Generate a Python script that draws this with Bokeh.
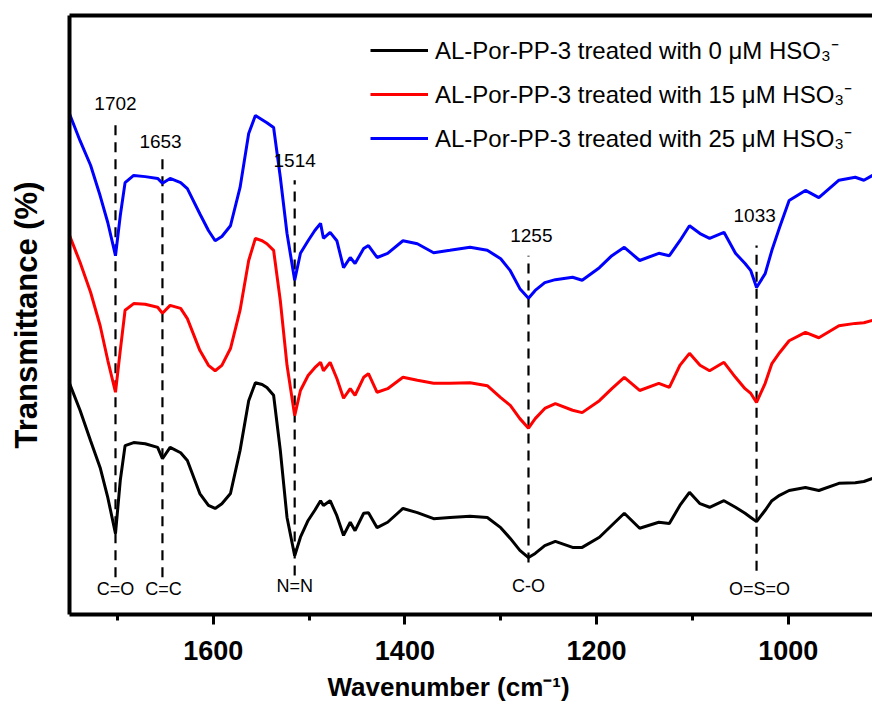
from bokeh.plotting import figure
from bokeh.models import Range1d, FixedTicker, LinearAxis, Legend, LegendItem, Title
from bokeh.core.properties import value
from bokeh.embed import file_html
from bokeh.resources import INLINE

# ---------------- data ----------------
wavenumber = [1750, 1739, 1728, 1718, 1710, 1702, 1697, 1692, 1683, 1671,
              1658, 1653, 1645, 1634, 1627, 1614, 1605, 1598, 1591, 1582,
              1572, 1563, 1556, 1549, 1544, 1537, 1530, 1523, 1515, 1509,
              1501, 1494, 1488, 1485, 1478, 1471, 1464, 1457, 1452, 1443,
              1438, 1429, 1418, 1402, 1387, 1370, 1353, 1332, 1314, 1300,
              1290, 1280, 1271, 1264, 1254, 1243, 1225, 1215, 1197, 1184,
              1171, 1155, 1135, 1124, 1113, 1103, 1092, 1082, 1067, 1055,
              1045, 1039, 1033, 1024, 1017, 1009, 999, 982, 968, 947,
              930, 921, 912]

t_0uM = [38.6, 34.1, 29.0, 24.5, 19.5, 13.5, 22.4, 28.2, 28.7, 28.5,
         27.9, 26.0, 27.9, 27.0, 25.7, 20.2, 18.2, 17.7, 18.5, 20.2,
         27.4, 35.7, 38.7, 38.4, 37.9, 36.6, 27.4, 16.2, 9.8, 12.9,
         15.7, 17.4, 19.0, 18.2, 19.0, 16.5, 13.2, 15.4, 14.0, 16.9,
         17.0, 14.5, 15.4, 17.7, 17.0, 16.0, 16.2, 16.4, 16.2, 14.5,
         12.7, 10.7, 9.5, 10.2, 11.5, 12.2, 11.2, 11.2, 12.9, 14.9,
         16.9, 14.4, 15.4, 15.2, 18.2, 20.4, 18.5, 17.9, 19.0, 17.9,
         16.9, 16.2, 15.5, 17.4, 19.0, 19.9, 20.7, 21.2, 20.7, 21.9,
         22.0, 22.2, 22.7]

t_15uM = [63.3, 58.8, 53.8, 48.2, 42.4, 37.1, 44.1, 50.8, 51.9, 51.8,
          51.3, 50.3, 51.6, 51.1, 49.4, 44.1, 41.6, 40.7, 41.6, 44.4,
          50.8, 59.1, 62.8, 62.4, 61.9, 60.8, 52.4, 41.6, 33.2, 37.4,
          39.9, 41.2, 42.1, 40.7, 42.1, 39.4, 36.1, 37.7, 36.6, 39.6,
          40.2, 37.1, 37.7, 39.6, 39.1, 38.6, 38.6, 38.7, 38.2, 36.2,
          34.9, 32.7, 31.1, 32.7, 34.4, 35.2, 34.1, 33.7, 35.7, 37.7,
          39.6, 37.4, 38.6, 37.9, 41.6, 43.6, 41.6, 40.7, 42.1, 39.6,
          37.7, 36.9, 35.4, 38.6, 41.9, 43.7, 45.7, 47.1, 46.2, 48.2,
          48.6, 48.7, 49.1]

t_25uM = [83.6, 79.1, 75.0, 69.9, 65.4, 59.9, 66.6, 72.1, 73.3, 73.1,
          72.8, 72.0, 72.8, 72.1, 71.1, 66.9, 64.1, 62.4, 63.1, 64.9,
          71.3, 80.3, 83.3, 82.6, 82.1, 81.3, 73.0, 63.6, 55.8, 60.3,
          62.4, 64.1, 65.3, 62.8, 63.8, 62.4, 57.9, 59.6, 58.6, 61.1,
          61.6, 59.6, 60.3, 62.4, 61.9, 60.4, 60.8, 61.3, 60.8, 59.4,
          57.4, 54.4, 52.8, 54.1, 55.4, 55.9, 56.3, 55.8, 57.9, 59.9,
          61.3, 59.1, 60.3, 59.9, 62.4, 64.9, 63.6, 62.8, 63.8, 60.3,
          58.6, 57.4, 54.6, 56.9, 60.8, 64.6, 69.1, 70.8, 69.6, 72.5,
          73.0, 72.5, 73.3]

series_labels = ["AL-Por-PP-3 treated with 0 \u03bcM HSO\u2083\u207b",
                 "AL-Por-PP-3 treated with 15 \u03bcM HSO\u2083\u207b",
                 "AL-Por-PP-3 treated with 25 \u03bcM HSO\u2083\u207b"]
series_colors = ["#000000", "#ff0000", "#0000ff"]

# peak marker lines
peak_pos = [1702, 1653, 1515, 1271, 1033]
peak_line_top = [82.8, 77.0, 72.5, 59.9, 61.6]
peak_line_bottom = [6.2, 6.2, 6.5, 8.7, 7.3]
peak_text = ["1702", "1653", "1514", "1255", "1033"]
peak_text_x = [1702, 1655, 1515, 1268, 1035]
peak_text_y = [85.3, 79.0, 75.8, 63.3, 66.6]
bond_text = ["C=O", "C=C", "N=N", "C-O", "O=S=O"]
bond_text_x = [1702, 1652, 1515, 1271, 1030]
bond_text_y = [4.3, 4.3, 4.8, 4.8, 4.3]

x_major = [1000, 1200, 1400, 1600]
x_minor = [1100, 1300, 1500, 1700]

FONT = "Liberation Sans"

p = figure(width=872, height=721, output_backend="svg", toolbar_location=None,
           x_range=Range1d(1750, 912), y_range=Range1d(0, 100),
           min_border_left=69, min_border_right=0, min_border_top=15,
           min_border_bottom=107)
p.outline_line_color = None
p.xgrid.visible = False
p.ygrid.visible = False
p.background_fill_color = "white"
p.border_fill_color = "white"

# bottom axis
xa = p.xaxis[0]
xa.ticker = FixedTicker(ticks=x_major, minor_ticks=x_minor)
xa.axis_line_width = 4
xa.major_tick_line_width = 3
xa.minor_tick_line_width = 3
xa.major_tick_out = 10
xa.major_tick_in = 0
xa.minor_tick_out = 6
xa.minor_tick_in = 0
xa.major_label_text_font = FONT
xa.major_label_text_font_style = "bold"
xa.major_label_text_font_size = "27px"
xa.major_label_text_color = "black"
xa.major_label_standoff = 16

xtitle = Title(text="Wavenumber (cm\u207b\u00b9)", align="left", offset=258,
               text_font=FONT, text_font_style="bold", text_font_size="26px",
               text_color="black", standoff=14)
p.add_layout(xtitle, "below")

# left axis
ya = p.yaxis[0]
ya.ticker = FixedTicker(ticks=[])
ya.axis_line_width = 4
ya.major_tick_line_color = None
ya.minor_tick_line_color = None
ya.axis_label = "Transmittance (%)"
ya.axis_label_text_font = FONT
ya.axis_label_text_font_style = "bold"
ya.axis_label_text_font_size = "31px"
ya.axis_label_text_color = "black"
ya.axis_label_standoff = 26

# top frame line
top = LinearAxis(ticker=FixedTicker(ticks=[]), axis_line_width=4,
                 major_tick_line_color=None, minor_tick_line_color=None)
p.add_layout(top, "above")

# peak marker dashed lines
p.segment(x0=peak_pos, y0=peak_line_bottom, x1=peak_pos, y1=peak_line_top,
          line_color="black", line_width=2.2, line_dash="10 7")

# spectra
renderers = []
for ys, c in zip([t_0uM, t_15uM, t_25uM], series_colors):
    r = p.line(wavenumber, ys, line_color=c, line_width=3)
    renderers.append(r)

p.text(x=peak_text_x, y=peak_text_y, text=peak_text, text_font=value(FONT),
       text_font_size="19px", text_align="center", text_baseline="middle",
       text_color="black")
p.text(x=bond_text_x, y=bond_text_y, text=bond_text, text_font=value(FONT),
       text_font_size="18px", text_align="center", text_baseline="middle",
       text_color="black")

legend = Legend(items=[LegendItem(label=l, renderers=[r])
                       for l, r in zip(series_labels, renderers)],
                location=(301, 460), padding=0, margin=0, spacing=11,
                glyph_width=58, glyph_height=20, label_height=20,
                label_standoff=7, label_text_font=FONT,
                label_text_font_size="24px", label_text_color="black",
                border_line_color=None, background_fill_alpha=0)
p.add_layout(legend)

open("out.html", "w").write(file_html(p, INLINE))
